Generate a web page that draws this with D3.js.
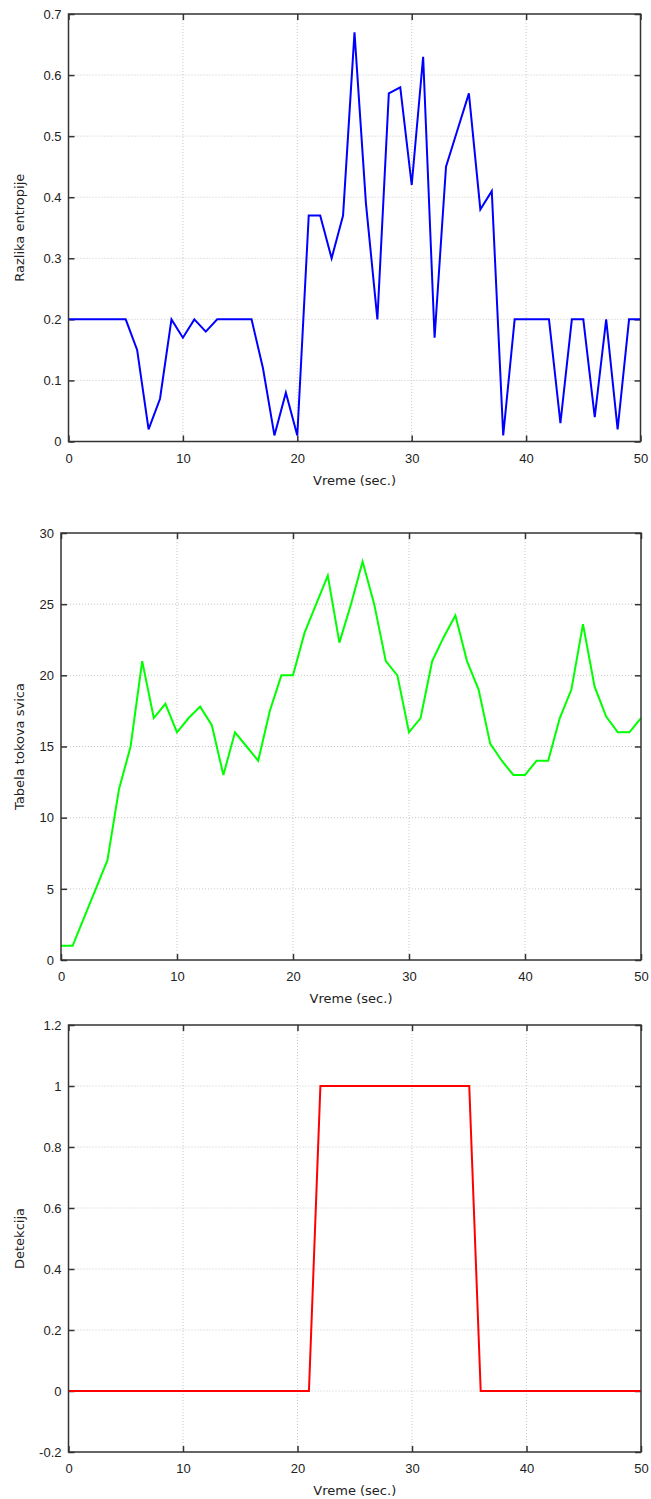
<!DOCTYPE html>
<html>
<head>
<meta charset="utf-8">
<script src="https://cdn.jsdelivr.net/npm/d3@7"></script>
<style>
  body { margin: 0; background: #fff; }
  svg { display: block; font-family: "DejaVu Sans", sans-serif; }
</style>
</head>
<body>
<svg id="chart" width="651" height="1499"></svg>
<script>
// time axis, shared by all three panels
const time = d3.range(0, 51);

// Razlika entropije (entropy difference)
const entropy = [
  0.2, 0.2, 0.2, 0.2, 0.2, 0.2, 0.15, 0.02, 0.07, 0.2,
  0.17, 0.2, 0.18, 0.2, 0.2, 0.2, 0.2, 0.12, 0.01, 0.08,
  0.01, 0.37, 0.37, 0.3, 0.37, 0.67, 0.39, 0.2, 0.57, 0.58,
  0.42, 0.63, 0.17, 0.45, 0.51, 0.57, 0.38, 0.41, 0.01, 0.2,
  0.2, 0.2, 0.2, 0.03, 0.2, 0.2, 0.04, 0.2, 0.02, 0.2,
  0.2
];

// Tabela tokova svica (flow table size)
const flows = [
  1, 1, 3, 5, 7, 12, 15, 21, 17, 18,
  16, 17, 17.8, 16.5, 13, 16, 15, 14, 17.5, 20,
  20, 23, 25, 27, 22.3, 25, 28, 25, 21, 20,
  16, 17, 21, 22.7, 24.2, 21, 19, 15.2, 14, 13,
  13, 14, 14, 17, 19, 23.6, 19.2, 17.1, 16, 16,
  17
];

// Detekcija (attack detected)
const detection = [
  0, 0, 0, 0, 0, 0, 0, 0, 0, 0,
  0, 0, 0, 0, 0, 0, 0, 0, 0, 0,
  0, 0, 1, 1, 1, 1, 1, 1, 1, 1,
  1, 1, 1, 1, 1, 1, 0, 0, 0, 0,
  0, 0, 0, 0, 0, 0, 0, 0, 0, 0,
  0
];

const xTicks = [0, 10, 20, 30, 40, 50];
const entropyTicks = [0, 0.1, 0.2, 0.3, 0.4, 0.5, 0.6, 0.7];
const flowTicks = [0, 5, 10, 15, 20, 25, 30];
const detectionTicks = [-0.2, 0, 0.2, 0.4, 0.6, 0.8, 1, 1.2];

const svg = d3.select("#chart");
const fmt = d => String(+d.toFixed(1));

const drawPanel = ({ box, values, yDomain, yTicks, yLabel, color }) => {
  const x = d3.scaleLinear().domain([0, 50]).range([box.left, box.right]);
  const y = d3.scaleLinear().domain(yDomain).range([box.bottom, box.top]);
  const g = svg.append("g");

  // dotted grid
  g.append("g")
    .selectAll("line")
    .data(xTicks.slice(1, -1))
    .join("line")
    .attr("x1", d => x(d)).attr("x2", d => x(d))
    .attr("y1", box.top).attr("y2", box.bottom)
    .attr("stroke", "#c8c8c8")
    .attr("stroke-dasharray", "1,2");
  g.append("g")
    .selectAll("line")
    .data(yTicks.slice(1, -1))
    .join("line")
    .attr("x1", box.left).attr("x2", box.right)
    .attr("y1", d => y(d)).attr("y2", d => y(d))
    .attr("stroke", "#c8c8c8")
    .attr("stroke-dasharray", "1,2");

  // axes with inward ticks, mirrored on the opposite side
  const axisStyle = sel => {
    sel.select(".domain").remove();
    sel.selectAll(".tick line").attr("stroke", "#333").attr("stroke-width", 1.5);
    sel.selectAll("text").attr("fill", "#222").style("font-size", "13px");
  };
  g.append("g")
    .attr("transform", `translate(0,${box.bottom})`)
    .call(d3.axisBottom(x).tickValues(xTicks).tickFormat(fmt).tickSizeInner(-6).tickPadding(12))
    .call(axisStyle);
  g.append("g")
    .attr("transform", `translate(0,${box.top})`)
    .call(d3.axisTop(x).tickValues(xTicks).tickFormat("").tickSizeInner(-6))
    .call(axisStyle);
  g.append("g")
    .attr("transform", `translate(${box.left},0)`)
    .call(d3.axisLeft(y).tickValues(yTicks).tickFormat(fmt).tickSizeInner(-6).tickPadding(7))
    .call(axisStyle);
  g.append("g")
    .attr("transform", `translate(${box.right},0)`)
    .call(d3.axisRight(y).tickValues(yTicks).tickFormat("").tickSizeInner(-6))
    .call(axisStyle);
  g.selectAll(".tick text").attr("font-family", null);

  // the series
  const line = d3.line().x((d, i) => x(time[i])).y(d => y(d));
  g.append("path")
    .datum(values)
    .attr("fill", "none")
    .attr("stroke", color)
    .attr("stroke-width", 2)
    .attr("stroke-linejoin", "miter")
    .attr("d", line);

  // frame
  g.append("rect")
    .attr("x", box.left).attr("y", box.top)
    .attr("width", box.right - box.left).attr("height", box.bottom - box.top)
    .attr("fill", "none")
    .attr("stroke", "#333")
    .attr("stroke-width", 1.5);

  // axis titles
  g.append("text")
    .attr("x", (box.left + box.right) / 2)
    .attr("y", box.bottom + 43)
    .attr("text-anchor", "middle")
    .attr("fill", "#222")
    .style("font-size", "13px")
    .text("Vreme (sec.)");
  g.append("text")
    .attr("transform", `translate(24,${(box.top + box.bottom) / 2}) rotate(-90)`)
    .attr("text-anchor", "middle")
    .attr("fill", "#222")
    .style("font-size", "13px")
    .text(yLabel);
};

drawPanel({
  box: { left: 68.5, right: 640.5, top: 14, bottom: 441.5 },
  values: entropy,
  yDomain: [0, 0.7],
  yTicks: entropyTicks,
  yLabel: "Razlika entropije",
  color: "#0000ff"
});

drawPanel({
  box: { left: 61, right: 641, top: 533, bottom: 960 },
  values: flows,
  yDomain: [0, 30],
  yTicks: flowTicks,
  yLabel: "Tabela tokova svica",
  color: "#00ff00"
});

drawPanel({
  box: { left: 68.5, right: 641, top: 1025, bottom: 1452 },
  values: detection,
  yDomain: [-0.2, 1.2],
  yTicks: detectionTicks,
  yLabel: "Detekcija",
  color: "#ff0000"
});
</script>
</body>
</html>
